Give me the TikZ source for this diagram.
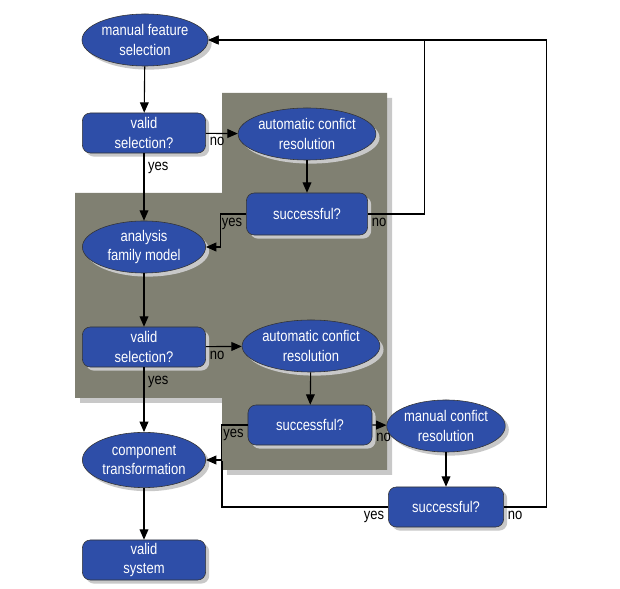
\documentclass[tikz,border=0pt]{standalone}
\usepackage{fontspec}
\setmainfont{Liberation Sans}[FakeStretch=0.84]
\usetikzlibrary{shapes.geometric,arrows.meta,shadows}

\definecolor{nodeblue}{RGB}{46,78,168}
\definecolor{panelgray}{RGB}{128,128,114}
\definecolor{panelshade}{RGB}{200,200,200}

\begin{document}
\begin{tikzpicture}[
  x=0.025cm, y=-0.025cm,
  font=\fontsize{11}{13.6}\selectfont,
  oval/.style={ellipse, draw=black!80, fill=nodeblue, text=white, align=center,
    minimum width=3.08cm, minimum height=1.3cm, inner sep=0pt,
    drop shadow={shadow xshift=0.09cm, shadow yshift=-0.09cm, fill=panelshade, opacity=1}},
  question/.style={draw=black!80, rounded corners=0.2cm, fill=nodeblue, text=white,
    align=center, minimum width=3.08cm, minimum height=1cm, inner sep=0pt,
    drop shadow={shadow xshift=0.09cm, shadow yshift=-0.09cm, fill=panelshade, opacity=1}},
  flow/.style={-{Triangle[length=2.6mm,width=2.2mm]}, thick},
  line/.style={thick},
  lbl/.style={text=black, inner sep=2.5pt}
]
\useasboundingbox (0,0) rectangle (620,589);

% grey panel with its shadow
\fill[panelshade] (227,98) -- (392,98) -- (392,475) -- (227,475) -- (227,403)
  -- (80,403) -- (80,198) -- (227,198) -- cycle;
\fill[panelgray] (222,93) -- (387,93) -- (387,470) -- (222,470) -- (222,398)
  -- (75,398) -- (75,193) -- (222,193) -- cycle;

\node[oval, minimum width=3.15cm] (manual) at (145,40) {manual feature\\selection};
\node[question] (valid1) at (144,133) {valid\\selection?};
\node[oval] (auto1) at (307,134) {automatic confict\\resolution};
\node[question, minimum width=3.03cm, minimum height=1.05cm] (succ1) at (307,214) {successful?};
\node[oval] (analysis) at (144,247) {analysis\\family model};
\node[question] (valid2) at (144,347) {valid\\selection?};
\node[oval] (auto2) at (311,346) {automatic confict\\resolution};
\node[question, minimum width=3.1cm] (succ2) at (310,425) {successful?};
\node[oval, minimum width=2.88cm] (manualres) at (446,426) {manual confict\\resolution};
\node[question, minimum width=2.88cm] (succ3) at (446,507) {successful?};
\node[oval, minimum height=1.38cm] (component) at (144,460) {component\\transformation};
\node[question] (system) at (144,560) {valid\\system};

\coordinate (join) at (222,461);

\draw[flow] (manual) -- (valid1);
\draw[flow] (valid1) -- node[lbl, pos=0, below right] {no} (auto1);
\draw[flow] (valid1) -- node[lbl, pos=0.22, right] {yes} (analysis);
\draw[flow] (auto1) -- (succ1);
\draw[flow] (succ1.west) -- node[lbl, pos=0, below left] {yes} ++(-26,0) |- (analysis.east);
\draw[flow] (succ1.east) -- node[lbl, pos=0, below right] {no} ++(57,0) |- (manual.east);
\draw[flow] (analysis) -- (valid2);
\draw[flow] (valid2) -- node[lbl, pos=0, below right] {no} (auto2);
\draw[flow] (valid2) -- node[lbl, pos=0.22, right] {yes} (component);
\draw[flow] (auto2) -- (succ2);
\draw[flow] (succ2.west) -- node[lbl, pos=0, below left] {yes} ++(-26,0) |- (component.east);
\draw[flow] (succ2.east) -- node[lbl, pos=0, below right, yshift=-3pt] {no} (manualres);
\draw[flow] (manualres) -- (succ3);
\draw[line] (succ3.west) -- node[lbl, pos=0, below left] {yes} ++(0,0) -| (join);
\draw[flow] (succ3.east) -- node[lbl, pos=0, below right] {no} ++(43,0) |- (manual.east);
\draw[flow] (component) -- (system);

\end{tikzpicture}
\end{document}
